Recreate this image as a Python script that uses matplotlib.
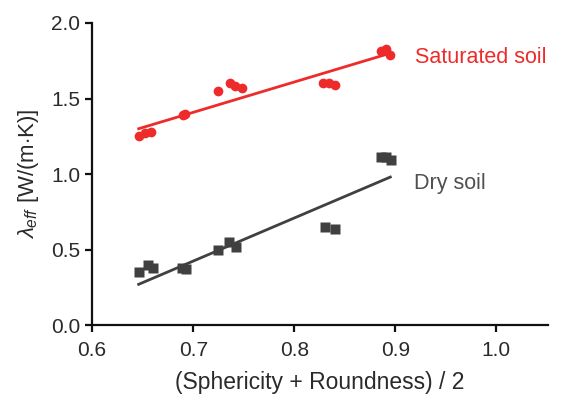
import numpy as np
import matplotlib
matplotlib.use("Agg")
import matplotlib.pyplot as plt

plt.rcParams['font.family'] = ['Liberation Sans', 'DejaVu Sans']
plt.rcParams['mathtext.fontset'] = 'custom'
plt.rcParams['mathtext.it'] = 'Liberation Sans:italic'
plt.rcParams['mathtext.rm'] = 'Liberation Sans'

#Saturated soil measurements
sat_x = [0.646, 0.652, 0.658, 0.690, 0.692, 0.725, 0.736, 0.741, 0.748,
         0.828, 0.834, 0.840, 0.886, 0.891, 0.895]
sat_y = [1.25, 1.27, 1.28, 1.39, 1.40, 1.55, 1.605, 1.585, 1.57,
         1.605, 1.60, 1.587, 1.817, 1.826, 1.79]

#Dry soil measurements
dry_x = [0.646, 0.655, 0.660, 0.689, 0.693, 0.725, 0.735, 0.742,
         0.830, 0.840, 0.886, 0.891, 0.896]
dry_y = [0.35, 0.397, 0.38, 0.38, 0.37, 0.50, 0.55, 0.52,
         0.647, 0.636, 1.115, 1.11, 1.09]

#Linear fit lines (end points)
fit_x = [0.646, 0.895]
sat_fit = [1.30, 1.80]
dry_fit = [0.27, 0.98]

red = '#ee2b2b'
dark = '#404040'

fig = plt.figure(figsize=(5.69, 3.96), dpi=100)
ax = fig.add_axes([0.162, 0.179, 0.801, 0.763])

ax.plot(fit_x, sat_fit, color=red, lw=2.0, zorder=2)
ax.plot(fit_x, dry_fit, color=dark, lw=2.0, zorder=2)
ax.plot(sat_x, sat_y, 'o', color=red, ms=7, mec='none', zorder=3)
ax.plot(dry_x, dry_y, 's', color=dark, ms=6.5, mec='none', zorder=3)

ax.text(0.919, 1.77, 'Saturated soil', color=red, fontsize=15.5, va='center', ha='left')
ax.text(0.918, 0.94, 'Dry soil', color='#505050', fontsize=15.5, va='center', ha='left')

ax.set_xlim(0.6, 1.051)
ax.set_ylim(0, 2.0)
ax.set_xticks([0.6, 0.7, 0.8, 0.9, 1.0])
ax.set_yticks([0.0, 0.5, 1.0, 1.5, 2.0])
ax.set_xticklabels(['0.6', '0.7', '0.8', '0.9', '1.0'])
ax.set_yticklabels(['0.0', '0.5', '1.0', '1.5', '2.0'])

for s in ['top', 'right']:
    ax.spines[s].set_visible(False)
for s in ['left', 'bottom']:
    ax.spines[s].set_linewidth(1.6)
    ax.spines[s].set_color('#111111')
ax.tick_params(direction='out', length=5, width=1.6, labelsize=15,
               colors='#111111', labelcolor='#2a2a2a')
ax.tick_params(axis='x', pad=6.5)

ax.set_xlabel('(Sphericity + Roundness) / 2', fontsize=16.5, color='#2a2a2a', labelpad=8)
ax.set_ylabel(r'$\lambda_{eff}$ [W/(m$\cdot$K)]', fontsize=16, color='#2a2a2a', labelpad=7)

fig.savefig('out.png', dpi=100)
